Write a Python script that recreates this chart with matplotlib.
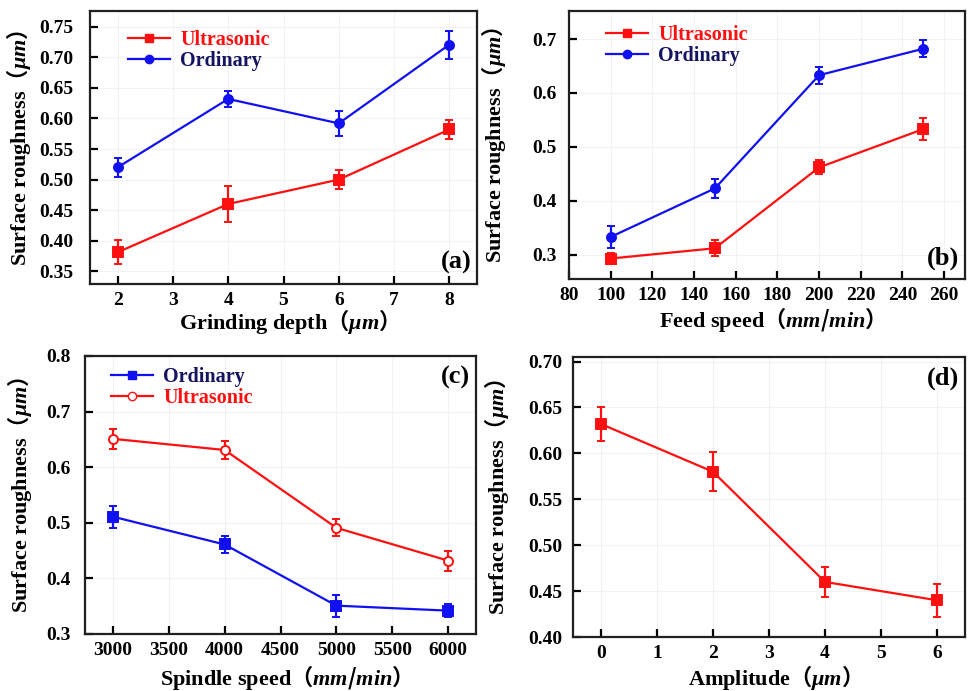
import matplotlib
matplotlib.use("Agg")
import matplotlib.pyplot as plt
from matplotlib.lines import Line2D

# ---------------- data ----------------
depth = [2, 4, 6, 8]
a_ultra = [0.381, 0.460, 0.500, 0.582]
a_ultra_err = [0.020, 0.030, 0.016, 0.016]
a_ord = [0.520, 0.632, 0.592, 0.721]
a_ord_err = [0.016, 0.013, 0.020, 0.023]

feed = [100, 150, 200, 250]
b_ultra = [0.293, 0.312, 0.462, 0.533]
b_ultra_err = [0.010, 0.015, 0.013, 0.020]
b_ord = [0.333, 0.423, 0.633, 0.682]
b_ord_err = [0.020, 0.018, 0.016, 0.016]

spindle = [3000, 4000, 5000, 6000]
c_ord = [0.511, 0.461, 0.351, 0.342]
c_ord_err = [0.020, 0.016, 0.020, 0.012]
c_ultra = [0.651, 0.631, 0.491, 0.432]
c_ultra_err = [0.018, 0.016, 0.015, 0.018]

amp = [0, 2, 4, 6]
d_ultra = [0.632, 0.580, 0.460, 0.440]
d_ultra_err = [0.019, 0.021, 0.016, 0.018]

# ---------------- style ----------------
plt.rcParams['font.family'] = ['Liberation Serif', 'Noto Sans CJK SC', 'DejaVu Sans']
plt.rcParams['font.weight'] = 'bold'
plt.rcParams['mathtext.fontset'] = 'custom'
plt.rcParams['mathtext.it'] = 'Liberation Serif:italic:bold'
plt.rcParams['mathtext.rm'] = 'Noto Sans CJK SC'
plt.rcParams['mathtext.bf'] = 'Liberation Serif:bold'

RED = '#ff1010'
BLUE = '#1010f0'
NAVY = '#141460'

W, H = 971, 691
fig = plt.figure(figsize=(W / 100, H / 100), dpi=100)


def unit(u):
    return '$\\mathrm{（}\\mathit{' + u + '}\\mathrm{）}$'


def make_ax(box, ypad):
    l, t, r, b = box
    ax = fig.add_axes([l / W, 1 - b / H, (r - l) / W, (b - t) / H])
    for s in ax.spines.values():
        s.set_linewidth(1.6)
        s.set_color('#202020')
    ax.tick_params(direction='in', length=6, width=1.6, labelsize=14)
    ax.tick_params(axis='y', pad=ypad)
    ax.tick_params(axis='x', pad=6)
    ax.grid(True, color='#f2f2f2', linewidth=0.8)
    ax.set_axisbelow(True)
    return ax


def finish(ax, box, xlabel, xunit, xticks, yticks, yfmt, ylab_right, xlab_y):
    l, t, r, b = box
    ax.set_xticks(xticks)
    ax.set_xticklabels([str(v) for v in xticks], fontweight='bold', fontsize=14)
    ax.set_yticks(yticks)
    ax.set_yticklabels([yfmt % v for v in yticks], fontweight='bold', fontsize=14)
    ax.set_ylabel('Surface roughness' + unit('\\mu m'), fontsize=16, fontweight='bold')
    ax.yaxis.set_label_coords((ylab_right - l) / (r - l), 0.5)
    ax.set_xlabel(xlabel + unit(xunit), fontsize=16, fontweight='bold')
    ax.xaxis.set_label_coords(0.5, -(xlab_y - b) / (b - t))
    ax.xaxis.label.set_va('center')


def series(ax, x, y, e, color, marker, mfc=None):
    ax.errorbar(x, y, yerr=e, color=color, marker=marker, markersize=6.5,
                linewidth=1.6, elinewidth=1.6, capsize=2.8, capthick=1.6,
                markerfacecolor=mfc if mfc else color, markeredgecolor=color,
                markeredgewidth=1.4)


def legend(ax, box, items, hx, ty):
    l, t, r, b = box
    handles = [Line2D([], [], color=c, marker=m, markersize=6,
                      markerfacecolor=f, markeredgecolor=c, linewidth=1.6)
               for c, m, f, _, _ in items]
    lg = ax.legend(handles, [it[3] for it in items], loc='upper left',
                   bbox_to_anchor=((hx - l) / (r - l), 1 - (ty - t) / (b - t)),
                   frameon=False, borderaxespad=0, borderpad=0,
                   handlelength=2.1, handletextpad=0.5, labelspacing=0.05,
                   prop={'weight': 'bold', 'size': 14.5})
    for txt, it in zip(lg.get_texts(), items):
        txt.set_color(it[4])


# (a)
box = (90, 11, 477, 284)
ax = make_ax(box, 12)
series(ax, depth, a_ultra, a_ultra_err, RED, 's')
series(ax, depth, a_ord, a_ord_err, BLUE, 'o')
ax.set_xlim(1.5, 8.5)
ax.set_ylim(0.329, 0.776)
finish(ax, box, 'Grinding depth', '\\mu m', [2, 3, 4, 5, 6, 7, 8],
       [0.35, 0.40, 0.45, 0.50, 0.55, 0.60, 0.65, 0.70, 0.75], '%.2f', 33, 322)
legend(ax, box, [(RED, 's', RED, 'Ultrasonic', RED),
                 (BLUE, 'o', BLUE, 'Ordinary', NAVY)], 128, 30)
ax.text(0.985, 0.035, '(a)', transform=ax.transAxes, ha='right', va='bottom',
        fontsize=19, fontweight='bold')

# (b)
box = (569, 11, 965, 279)
ax = make_ax(box, 9)
series(ax, feed, b_ultra, b_ultra_err, RED, 's')
series(ax, feed, b_ord, b_ord_err, BLUE, 'o')
ax.set_xlim(80, 270)
ax.set_ylim(0.255, 0.752)
finish(ax, box, 'Feed speed', 'mm/min', list(range(80, 261, 20)),
       [0.3, 0.4, 0.5, 0.6, 0.7], '%.1f', 508, 320)
legend(ax, box, [(RED, 's', RED, 'Ultrasonic', RED),
                 (BLUE, 'o', BLUE, 'Ordinary', NAVY)], 606, 25)
ax.text(0.985, 0.035, '(b)', transform=ax.transAxes, ha='right', va='bottom',
        fontsize=19, fontweight='bold')

# (c)
box = (85, 356, 476, 634)
ax = make_ax(box, 10)
series(ax, spindle, c_ord, c_ord_err, BLUE, 's')
series(ax, spindle, c_ultra, c_ultra_err, RED, 'o', mfc='white')
ax.set_xlim(2750, 6250)
ax.set_ylim(0.3, 0.8)
finish(ax, box, 'Spindle speed', 'mm/min', list(range(3000, 6001, 500)),
       [0.3, 0.4, 0.5, 0.6, 0.7, 0.8], '%.1f', 34, 678)
legend(ax, box, [(BLUE, 's', BLUE, 'Ordinary', NAVY),
                 (RED, 'o', 'white', 'Ultrasonic', RED)], 111, 367)
ax.text(0.985, 0.965, '(c)', transform=ax.transAxes, ha='right', va='top',
        fontsize=19, fontweight='bold')

# (d)
box = (573, 357, 965, 637)
ax = make_ax(box, 8)
series(ax, amp, d_ultra, d_ultra_err, RED, 's')
ax.set_xlim(-0.5, 6.5)
ax.set_ylim(0.40, 0.705)
finish(ax, box, 'Amplitude', '\\mu m', [0, 1, 2, 3, 4, 5, 6],
       [0.40, 0.45, 0.50, 0.55, 0.60, 0.65, 0.70], '%.2f', 511, 678)
ax.text(0.985, 0.965, '(d)', transform=ax.transAxes, ha='right', va='top',
        fontsize=19, fontweight='bold')

fig.savefig('out.png', dpi=100)
